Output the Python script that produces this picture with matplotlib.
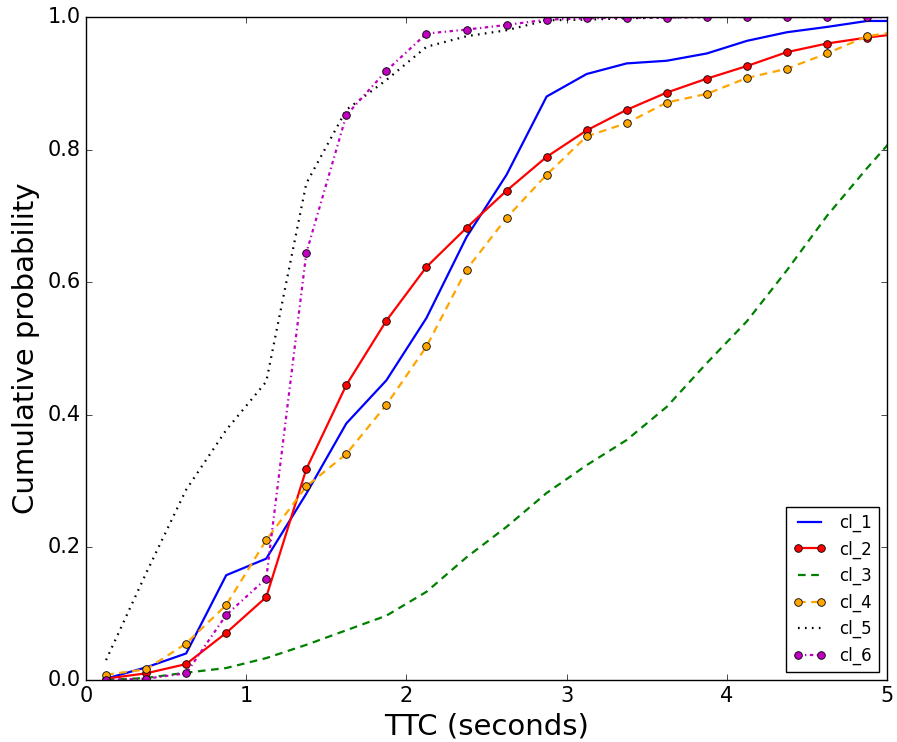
import numpy as np
import matplotlib
matplotlib.use("Agg")
import matplotlib.pyplot as plt

plt.style.use("classic")

### TTC bin centres (last one sits past the x limit so lines run to the edge)
ttc = [0.125, 0.375, 0.625, 0.875, 1.125, 1.375, 1.625, 1.875, 2.125, 2.375,
       2.625, 2.875, 3.125, 3.375, 3.625, 3.875, 4.125, 4.375, 4.625, 4.875,
       5.125]

### Cumulative probability per cluster
cl_1 = [0.002, 0.019, 0.040, 0.158, 0.183, 0.281, 0.387, 0.452, 0.546, 0.668,
        0.762, 0.880, 0.914, 0.930, 0.934, 0.945, 0.964, 0.977, 0.985, 0.994,
        0.994]
cl_2 = [0.002, 0.010, 0.024, 0.071, 0.125, 0.318, 0.445, 0.542, 0.623, 0.682,
        0.738, 0.789, 0.829, 0.860, 0.886, 0.907, 0.926, 0.947, 0.960, 0.969,
        0.976]
cl_3 = [0.000, 0.003, 0.011, 0.018, 0.033, 0.053, 0.075, 0.097, 0.133, 0.185,
        0.231, 0.282, 0.324, 0.362, 0.412, 0.478, 0.541, 0.618, 0.700, 0.772,
        0.840]
cl_4 = [0.008, 0.016, 0.055, 0.113, 0.211, 0.292, 0.341, 0.415, 0.503, 0.619,
        0.697, 0.762, 0.820, 0.840, 0.871, 0.884, 0.908, 0.922, 0.945, 0.971,
        0.980]
cl_5 = [0.030, 0.161, 0.287, 0.377, 0.450, 0.749, 0.860, 0.905, 0.955, 0.971,
        0.980, 0.995, 0.996, 0.998, 0.999, 1.000, 1.000, 1.000, 1.000, 1.000,
        1.000]
cl_6 = [0.000, 0.002, 0.010, 0.098, 0.153, 0.644, 0.852, 0.919, 0.975, 0.981,
        0.988, 0.996, 0.998, 0.999, 0.999, 1.000, 1.000, 1.000, 1.000, 1.000,
        1.000]

### Create Figure
fig = plt.figure(figsize=(8.97, 7.42), dpi=100, facecolor='white')
ax = fig.add_axes([0.0959, 0.0836, 0.893, 0.8935])

lw = 1.6
ax.plot(ttc, cl_1, color='b', ls='-', lw=lw, label='cl_1')
ax.plot(ttc, cl_2, color='r', ls='-', lw=lw, marker='o', ms=5.5,
        mec='k', mew=0.6, label='cl_2')
ax.plot(ttc, cl_3, color='g', ls=(0, (5.5, 4)), lw=lw, label='cl_3')
ax.plot(ttc, cl_4, color='orange', ls=(0, (5.5, 4)), lw=lw, marker='o',
        ms=5.5, mec='k', mew=0.6, label='cl_4')
ax.plot(ttc, cl_5, color='k', ls=(0, (1.2, 3.8)), lw=lw, label='cl_5')
ax.plot(ttc, cl_6, color='m', ls=(0, (2.5, 2.5, 1, 2.5)), lw=lw,
        marker='o', ms=5.5, mec='k', mew=0.6, label='cl_6')

ax.set_xlim(0, 5)
ax.set_ylim(0, 1)
ax.tick_params(direction='in', labelsize=15)
ax.set_xlabel('TTC (seconds)', fontsize=21)
ax.set_ylabel('Cumulative probability', fontsize=21)
ax.legend(loc='lower right', fontsize=12, numpoints=2, fancybox=False)

fig.savefig('out.png', dpi=100, facecolor='white')
